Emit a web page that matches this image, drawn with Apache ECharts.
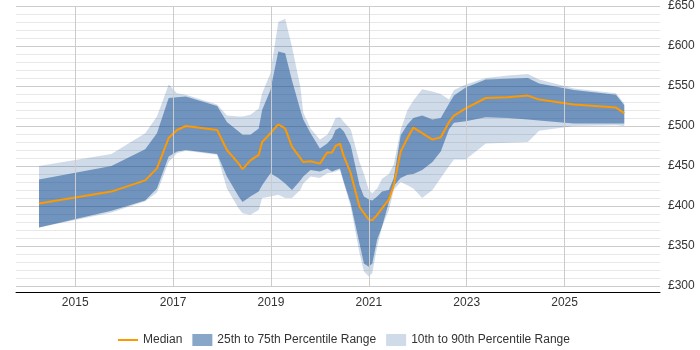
<!DOCTYPE html>
<html>
<head>
<meta charset="utf-8">
<script src="https://cdn.jsdelivr.net/npm/echarts@6/dist/echarts.min.js"></script>
<style>
  html, body { margin: 0; padding: 0; background: #fff; }
  #chart { width: 700px; height: 350px; }
</style>
</head>
<body>
<div id="chart"></div>
<script>
// decimal years
var years = [2014.26, 2015.74, 2016.43, 2016.67, 2016.91, 2017.08, 2017.26, 2017.90, 2018.10, 2018.34,
  2018.42, 2018.58, 2018.75, 2018.82, 2018.99, 2019.15, 2019.29, 2019.43, 2019.60, 2019.66,
  2019.81, 2020.00, 2020.15, 2020.25, 2020.32, 2020.41, 2020.49, 2020.63, 2020.81, 2020.90,
  2021.00, 2021.07, 2021.17, 2021.27, 2021.41, 2021.51, 2021.65, 2021.79, 2021.91, 2022.09,
  2022.30, 2022.47, 2022.64, 2022.74, 2022.98, 2023.39, 2023.84, 2024.25, 2024.48, 2025.19,
  2026.05, 2026.22];
var p10 = [373, 392, 406, 417, 455, 466, 469, 464, 422, 397,
  391, 389, 395, 410, 412, 414, 410, 410, 420, 428,
  437, 435, 441, 442, 443, 445, 428, 399, 341, 318,
  312, 316, 349, 374, 395, 420, 430, 426, 422, 410,
  420, 435, 450, 458, 458, 478, 479, 480, 494, 500,
  501, 500];
var p25 = [373, 394, 407, 422, 462, 468, 470, 465, 437, 412,
  405, 412, 418, 426, 441, 435, 428, 420, 432, 437,
  445, 443, 447, 443, 445, 447, 430, 403, 353, 328,
  324, 328, 358, 374, 405, 425, 435, 439, 440, 445,
  455, 468, 496, 504, 506, 511, 510, 508, 507, 503,
  503, 503];
var median = [403, 418, 432, 447, 485, 495, 500, 495, 470, 453,
  446, 457, 464, 480, 491, 502, 497, 474, 460, 455,
  456, 453, 467, 467, 475, 478, 462, 441, 399, 391,
  383, 382, 389, 397, 408, 426, 468, 485, 498, 491,
  483, 486, 505, 513, 522, 535, 536, 538, 533, 527,
  523, 516];
var p75 = [433, 450, 471, 491, 535, 536, 537, 525, 505, 493,
  489, 489, 497, 520, 545, 593, 591, 557, 520, 508,
  491, 472, 478, 485, 495, 498, 493, 476, 426, 412,
  408, 407, 412, 418, 420, 435, 488, 502, 510, 513,
  508, 510, 528, 538, 548, 558, 559, 560, 553, 545,
  539, 526];
var p90 = [450, 465, 491, 512, 552, 541, 539, 527, 513, 512,
  512, 514, 522, 541, 566, 630, 634, 599, 549, 517,
  497, 483, 489, 500, 510, 511, 505, 496, 455, 440,
  420, 416, 422, 434, 440, 452, 495, 520, 532, 546,
  543, 540, 533, 545, 552, 560, 563, 565, 558, 547,
  541, 528];
var xLabels = [2015, 2017, 2019, 2021, 2023, 2025];
var yTicks = [300, 350, 400, 450, 500, 550, 600, 650];

var bandColor = 'rgba(17,77,145,0.2)';
var innerColor = 'rgba(17,77,145,0.5)';

// band between two percentile arrays, drawn as one polygon
function bandSeries(name, lo, hi, color) {
  return {
    name: name,
    type: 'custom',
    silent: true,
    itemStyle: { color: color },
    encode: { x: 0, y: [1, 2] },
    data: years.map(function (t, i) { return [t, lo[i], hi[i]]; }),
    renderItem: function (params, api) {
      if (params.dataIndex !== 0) return { type: 'group', children: [] };
      var top = years.map(function (t, i) { return api.coord([t, hi[i]]); });
      var bottom = years.map(function (t, i) { return api.coord([t, lo[i]]); }).reverse();
      return {
        type: 'polygon',
        shape: { points: top.concat(bottom) },
        style: { fill: color }
      };
    }
  };
}

var chart = echarts.init(document.getElementById('chart'));
chart.setOption({
  animation: false,
  textStyle: { fontFamily: 'Liberation Sans, Arial, sans-serif' },
  grid: { left: 16, right: 40, top: 6, bottom: 64 },
  legend: {
    left: 112,
    top: 329,
    itemGap: 10,
    itemWidth: 20,
    itemHeight: 12,
    textStyle: { color: '#333', fontSize: 12 },
    data: [
      { name: 'Median', itemStyle: { opacity: 0 } },
      { name: '25th to 75th Percentile Range', icon: 'rect' },
      { name: '10th to 90th Percentile Range', icon: 'rect' }
    ]
  },
  xAxis: {
    type: 'value',
    min: 2013.79,
    max: 2026.95,
    offset: 6,
    axisLine: { show: true, lineStyle: { color: '#000', width: 1 } },
    axisTick: { show: false },
    splitLine: { show: false },
    axisLabel: {
      customValues: xLabels,
      color: '#333',
      fontSize: 12,
      margin: 5,
      formatter: function (v) { return String(v); }
    }
  },
  yAxis: {
    type: 'value',
    position: 'right',
    min: yTicks[0],
    max: yTicks[yTicks.length - 1],
    interval: 50,
    axisLine: { show: false },
    axisTick: { show: false },
    axisLabel: { color: '#333', fontSize: 12, margin: 8, formatter: '£{value}' },
    splitLine: { lineStyle: { color: '#cccccc' } },
    minorTick: { show: false, splitNumber: 5 },
    minorSplitLine: { show: true, lineStyle: { color: '#e8e8e8' } }
  },
  series: [
    {
      name: 'yeargrid', type: 'line', data: [], silent: true,
      markLine: {
        silent: true, symbol: 'none', label: { show: false },
        lineStyle: { color: '#cccccc', width: 1, type: 'solid' },
        data: xLabels.map(function (y) { return { xAxis: y }; })
      }
    },
    bandSeries('10th to 90th Percentile Range', p10, p90, bandColor),
    bandSeries('25th to 75th Percentile Range', p25, p75, innerColor),
    {
      name: 'Median', type: 'line', symbol: 'none',
      itemStyle: { color: '#ff9900' }, lineStyle: { color: '#ff9900', width: 2 },
      data: years.map(function (t, i) { return [t, median[i]]; })
    }
  ]
});
</script>
</body>
</html>
